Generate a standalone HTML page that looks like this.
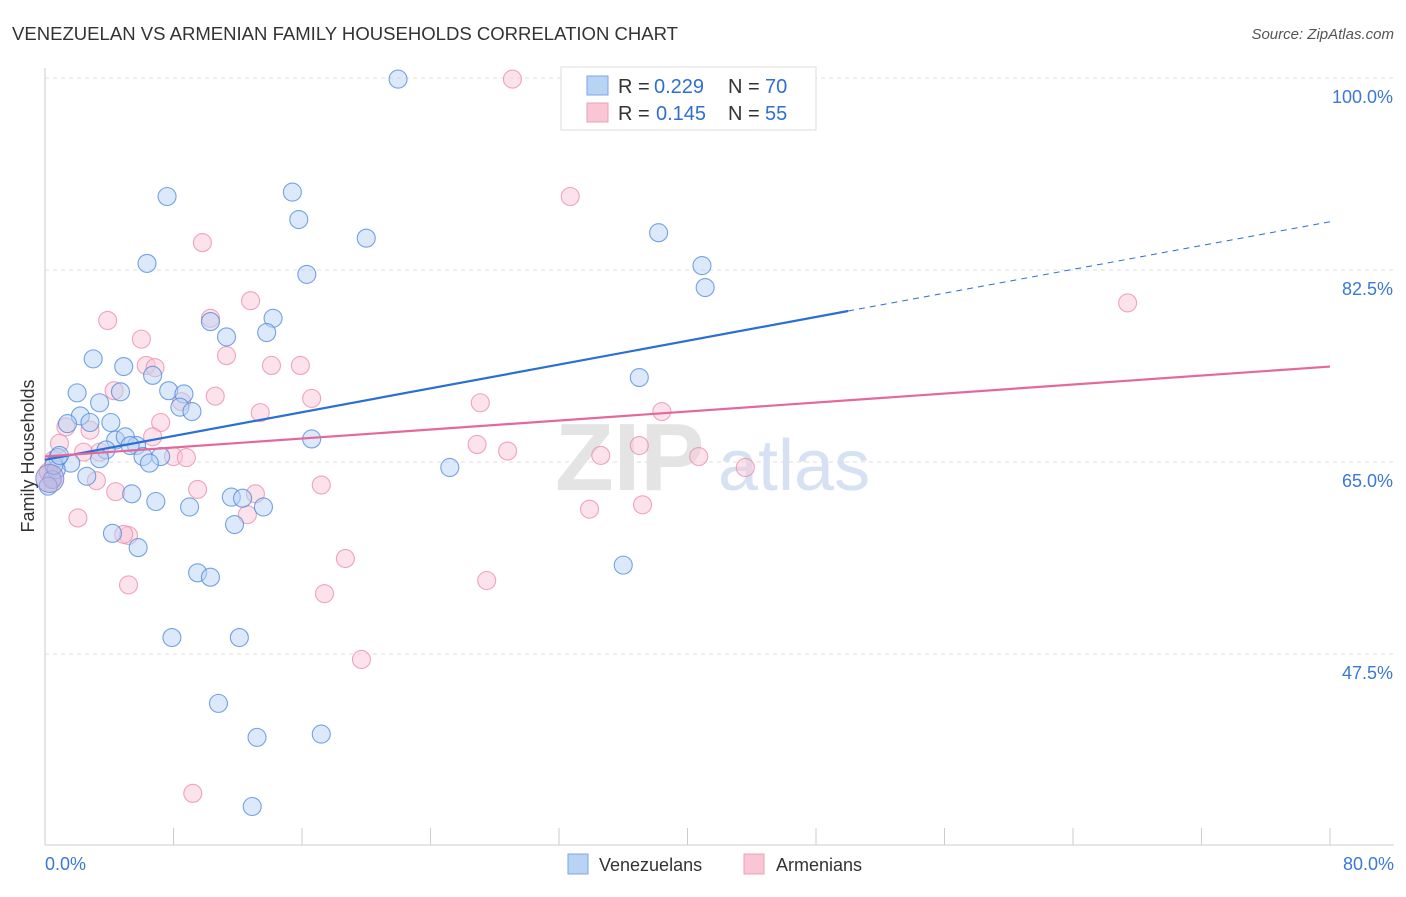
<!DOCTYPE html>
<html><head><meta charset="utf-8"><style>
body{margin:0;background:#fff;font-family:"Liberation Sans",sans-serif}
svg text{font-family:"Liberation Sans",sans-serif}
</style></head><body>
<svg id="chart" width="1406" height="892" xmlns="http://www.w3.org/2000/svg">
<text x="12" y="40" font-size="18" fill="#333" textLength="666" lengthAdjust="spacingAndGlyphs">VENEZUELAN VS ARMENIAN FAMILY HOUSEHOLDS CORRELATION CHART</text>
<text x="1394" y="39" font-size="15" fill="#555" text-anchor="end" font-style="italic">Source: ZipAtlas.com</text>
<g id="grid"></g>
<text x="555" y="490" font-size="96" fill="#e4e4e4" font-weight="bold">ZIP</text>
<text x="718" y="490" font-size="72" fill="#d6e2f3">atlas</text>
<g id="points"></g>
<g id="trends"></g>
<g>
<rect x="561" y="67" width="255" height="63" fill="#fff" stroke="#ddd"/>
<rect x="587" y="76" width="21" height="19" fill="#b9d3f5" stroke="#7aa6e6"/>
<rect x="587" y="103" width="21" height="19" fill="#f9c6d6" stroke="#ee9fb8"/>
<text x="618" y="93" font-size="20" fill="#333">R =</text>
<text x="654" y="93" font-size="20" fill="#2e6fd1">0.229</text>
<text x="728" y="93" font-size="20" fill="#333">N =</text>
<text x="765" y="93" font-size="20" fill="#2e6fd1">70</text>
<text x="618" y="120" font-size="20" fill="#333">R =</text>
<text x="656" y="120" font-size="20" fill="#2e6fd1">0.145</text>
<text x="728" y="120" font-size="20" fill="#333">N =</text>
<text x="765" y="120" font-size="20" fill="#2e6fd1">55</text>
</g>
<text transform="translate(34,456) rotate(-90)" font-size="18" fill="#333" text-anchor="middle">Family Households</text>
<text x="45" y="870" font-size="18" fill="#3a78d8">0.0%</text>
<text x="1394" y="870" font-size="18" fill="#3a78d8" text-anchor="end">80.0%</text>
<g>
<rect x="568" y="854" width="20" height="20" fill="#b9d3f5" stroke="#7aa6e6"/>
<text x="599" y="871" font-size="18" fill="#333">Venezuelans</text>
<rect x="744" y="854" width="20" height="20" fill="#f9c6d6" stroke="#ee9fb8"/>
<text x="776" y="871" font-size="18" fill="#333">Armenians</text>
</g>
</svg>
<script>
const yTicks=[100,82.5,65,47.5];
const yTickLabels=["100.0%","82.5%","65.0%","47.5%"];
const xTicks=[0,8,16,24,32,40,48,56,64,72,80];
const venX=[21.98,7.6,15.4,15.8,20.0,6.35,16.3,38.2,40.9,41.1,10.3,14.2,11.3,13.8,3.0,4.9,6.7,4.7,2.0,7.7,8.65,8.4,9.15,3.4,2.2,1.4,2.8,4.1,4.4,5.0,5.7,3.8,5.3,7.2,3.4,6.1,6.5,1.6,0.8,0.7,0.45,0.2,2.6,5.4,6.9,9.0,11.6,12.3,13.6,11.8,4.2,5.8,9.5,10.3,7.9,12.1,10.8,13.2,17.2,12.9,37.0,25.2,36.0,16.6,0.55,0.9];
const venY=[99.9,89.2,89.6,87.1,85.4,83.1,82.1,85.9,82.9,80.9,77.8,78.1,76.4,76.8,74.4,73.7,72.9,71.4,71.3,71.5,71.2,70.0,69.6,70.4,69.2,68.5,68.6,68.6,67.0,67.3,66.5,66.1,66.5,65.5,65.3,65.5,64.9,64.9,65.4,64.3,63.4,62.8,63.7,62.1,61.4,60.9,61.8,61.7,60.9,59.3,58.5,57.2,54.9,54.5,49.0,49.0,43.0,39.9,40.2,33.6,72.7,64.5,55.6,67.1,64.7,65.6];
const armX=[29.1,32.7,9.8,12.8,67.4,3.9,10.3,6.0,11.3,6.3,6.85,14.1,15.9,4.3,10.6,16.6,27.1,8.5,13.4,38.4,7.2,2.8,1.3,0.9,6.7,26.9,28.8,37.0,40.7,43.6,8.0,8.8,2.4,3.4,3.2,4.4,9.5,13.1,17.2,12.6,33.9,37.2,34.6,2.05,5.2,4.9,18.7,27.5,5.2,17.4,19.7,9.2,0.55,0.2,0.45];
const armY=[99.9,89.2,85.0,79.7,79.5,77.9,78.1,76.2,74.7,73.8,73.6,73.8,73.8,71.5,71.0,70.8,70.4,70.5,69.5,69.6,68.6,67.9,68.2,66.7,67.3,66.6,66.0,66.5,65.5,64.5,65.5,65.4,65.9,65.9,63.3,62.3,62.5,62.1,62.9,60.2,60.7,61.1,65.6,59.9,58.3,58.4,56.2,54.2,53.8,53.0,47.0,34.8,65.2,64.1,63.4];
const venTrend=[65.2,86.9]; const venSolidEnd=50;
const armTrend=[65.5,73.7];
const NS="http://www.w3.org/2000/svg";
const sx=v=>45+v/80*1285;
const sy=v=>78+(100-v)/17.5*192;
function mk(t,a,p){const e=document.createElementNS(NS,t);for(const k in a)e.setAttribute(k,a[k]);p.appendChild(e);return e;}
const grid=document.getElementById('grid');
const ax=mk('line',{x1:45,y1:68,x2:45,y2:845,stroke:'#ccc'},grid);


const bx=mk('line',{x1:45,y1:845,x2:1394,y2:845,stroke:'#ccc'},grid);


yTicks.forEach((v,i)=>{
 const l=mk('line',{x1:45,y1:sy(v),x2:1394,y2:sy(v),stroke:'#ddd','stroke-dasharray':'4,4'},grid);
 
 
 const t=mk('text',{x:1393,y:sy(v)+25,'font-size':18,fill:'#3a78d8','text-anchor':'end'},grid);
 t.textContent=yTickLabels[i];
 
 
});
xTicks.forEach(v=>{
 const l=mk('line',{x1:sx(v),y1:828,x2:sx(v),y2:845,stroke:'#ccc'},grid);
 
 
});
const pts=document.getElementById('points');
function drawPts(X,Y,fill,stroke,name){
 X.forEach((x,i)=>{
  const c=mk('circle',{cx:sx(x),cy:sy(Y[i]),r:9,fill:fill,'fill-opacity':0.5,stroke:stroke,'stroke-opacity':0.75,'stroke-width':1.1},pts);
  
  
 });
}
drawPts(armX,armY,'#f9c6d6','#e98aa8','armenian-point');
drawPts(venX,venY,'#b9d3f5','#4a86dc','venezuelan-point');
const big=mk('circle',{cx:sx(0.3),cy:sy(63.5),r:14,fill:'#b6a8d8','fill-opacity':0.55,stroke:'#8a8fd2'},pts);


const tr=document.getElementById('trends');
const f=(a,x)=>a[0]+(a[1]-a[0])*x/80;
const l1=mk('line',{x1:sx(0),y1:sy(f(venTrend,0)),x2:sx(venSolidEnd),y2:sy(f(venTrend,venSolidEnd)),stroke:'#2a6fd6','stroke-width':2.2},tr);


const l2=mk('line',{x1:sx(venSolidEnd),y1:sy(f(venTrend,venSolidEnd)),x2:sx(80),y2:sy(f(venTrend,80)),stroke:'#2a6fd6','stroke-width':1,'stroke-dasharray':'6,5'},tr);


const l3=mk('line',{x1:sx(0),y1:sy(f(armTrend,0)),x2:sx(80),y2:sy(f(armTrend,80)),stroke:'#e4699a','stroke-width':2.2},tr);


</script>
</body></html>
